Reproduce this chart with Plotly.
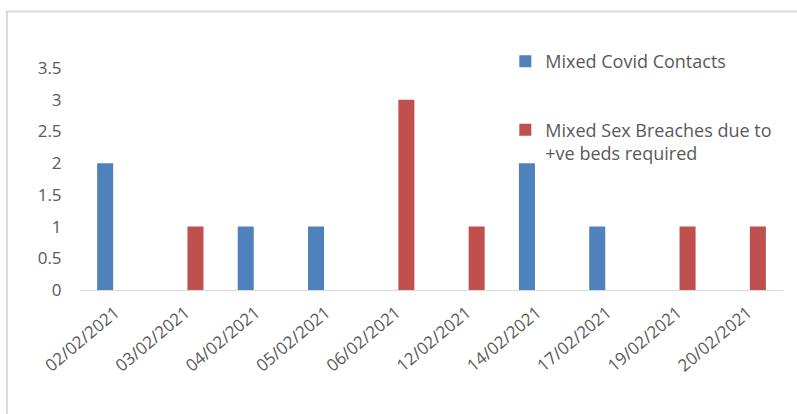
import plotly.graph_objects as go

# Daily counts by date
dates = ["02/02/2021", "03/02/2021", "04/02/2021", "05/02/2021", "06/02/2021",
         "12/02/2021", "14/02/2021", "17/02/2021", "19/02/2021", "20/02/2021"]
covid_contacts = [2, 0, 1, 1, 0, 0, 2, 1, 0, 0]
sex_breaches = [0, 1, 0, 0, 3, 1, 0, 0, 1, 1]
y_ticks = [0, 0.5, 1, 1.5, 2, 2.5, 3, 3.5]

FONT = "'Open Sans', Lato, sans-serif"
TEXT = "#595959"

fig = go.Figure()
fig.add_trace(go.Bar(
    x=dates, y=covid_contacts, name="Mixed Covid Contacts",
    marker=dict(color="#4F81BD", line=dict(width=0)), legendgroup="a",
))
fig.add_trace(go.Bar(
    x=dates, y=sex_breaches, name="Mixed Sex Breaches due to<br>+ve beds required",
    marker=dict(color="#C0504D", line=dict(width=0)), legendgroup="b",
))

fig.update_layout(
    width=797, height=414,
    margin=dict(l=80, r=14, t=68, b=124),
    paper_bgcolor="white", plot_bgcolor="white",
    barmode="group", bargap=0.43, bargroupgap=0.2,
    font=dict(family=FONT, size=17, color=TEXT),
    showlegend=True,
    legend=dict(
        x=0.605, y=1.112, xanchor="left", yanchor="top",
        bgcolor="rgba(0,0,0,0)", tracegroupgap=42, valign="top",
        font=dict(family=FONT, size=18, color=TEXT),
        itemwidth=30,
    ),
    shapes=[dict(
        type="rect", xref="paper", yref="paper",
        x0=-0.104, x1=1.05, y0=-0.6, y1=1.255,
        line=dict(color="#d9d9d9", width=2), fillcolor="rgba(0,0,0,0)",
        layer="below",
    )],
)
fig.update_xaxes(
    type="category", tickangle=-40, showgrid=False,
    showline=True, linecolor="#d9d9d9", linewidth=1,
    ticks="outside", ticklen=5, tickcolor="rgba(0,0,0,0)",
    tickfont=dict(family=FONT, size=17, color=TEXT),
)
fig.update_yaxes(
    range=[0, 3.5], tickvals=y_ticks, ticktext=[f"{v:g}" for v in y_ticks],
    showgrid=False, zeroline=False, showline=False,
    ticks="outside", ticklen=14, tickcolor="rgba(0,0,0,0)",
    tickfont=dict(family=FONT, size=17, color=TEXT),
)

fig.write_html("out.html")
